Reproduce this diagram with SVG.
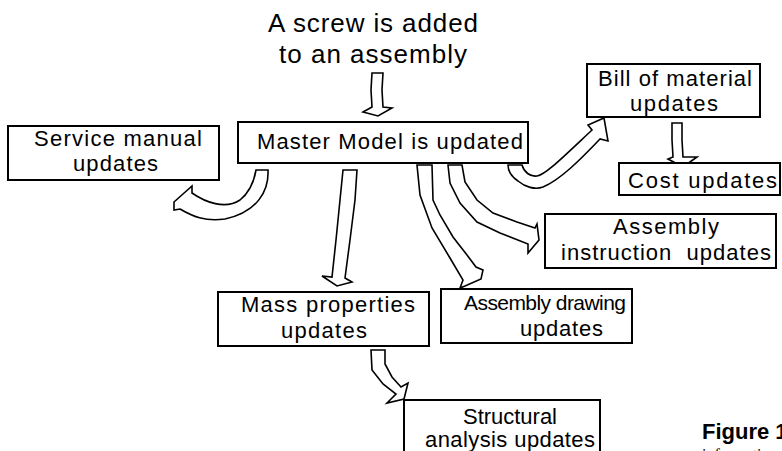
<svg xmlns="http://www.w3.org/2000/svg" width="782" height="451" viewBox="0 0 782 451">
<style>
.box{fill:#fff;stroke:#000;stroke-width:2}
.t{font-family:"Liberation Sans",Arial,sans-serif;font-size:22px;fill:#000}
.tt{font-family:"Liberation Sans",Arial,sans-serif;font-size:26px;fill:#000}
.arr{fill:#fff;stroke:#000;stroke-width:1.6;stroke-linejoin:miter}
</style>
<rect width="782" height="451" fill="#fff"/>
<g id="title">
<text class="tt" x="268" y="32" textLength="210">A screw is added</text>
<text class="tt" x="279" y="63" textLength="188">to an assembly</text>
</g>
<g id="connectors">
<path class="arr" d="M372,73 L383,73 L382,90 L383,107 L392,108 L378,116 L363,112 L372,107 L371,90 Z"/>
<path class="arr" d="M256,170 L268,170 C269,190 258,212 225,219 C205,222 192,216 180,209 L174,210 L174,202 L192,186 L192,193 C205,202 225,210 240,200 C250,192 254,182 256,170 Z"/>
<path class="arr" d="M343,170 L357,170 L355,200 L350,240 L345,278 L352,282 L337,286 L322,276 L332,277 L336,240 L340,200 Z"/>
<path class="arr" d="M417,165 L432,165 L433,200 L440,215 L453,237 L467,255 L476,267 L483,270 L481,279 L465,286 L460,288 L463,280 L450,258 L432,228 L420,195 Z"/>
<path class="arr" d="M448,165 L462,165 L465,182 L477,200 L493,213 L517,222 L535,228 L537,224 L539,240 L528,253 L528,244 L500,233 L477,222 L460,203 L450,183 Z"/>
<path class="arr" d="M508,165 L522,165 C524,172 530,177 537,176 C545,175 560,160 592,130 L588,125 L604,118 L608,141 L600,139 C580,160 560,180 543,187 C535,190 525,187 518,181 C512,177 508,172 508,165 Z"/>
<path class="arr" d="M672,123 L682,123 L682,140 L683,157 L697,157 L683,167 L668,159 L673,157 L672,140 Z"/>
<path class="arr" d="M371,350 L385,350 L385,364 L392,377 L401,387 L408,383 L404,399 L387,403 L396,394 L383,384 L372,370 Z"/>
</g>
<g id="master">
<rect class="box" x="238" y="122" width="290" height="41"/>
<text class="t" x="257" y="149" textLength="266">Master Model is updated</text>
</g>
<g id="service">
<rect class="box" x="8" y="126" width="211" height="54"/>
<text class="t" x="34" y="146" textLength="168">Service manual</text>
<text class="t" x="73" y="171" textLength="85">updates</text>
</g>
<g id="bom">
<rect class="box" x="587" y="64" width="173" height="53"/>
<text class="t" x="598" y="86" textLength="154">Bill of material</text>
<text class="t" x="630" y="111" textLength="88">updates</text>
</g>
<g id="cost">
<rect class="box" x="619" y="163" width="161" height="32"/>
<text class="t" x="628" y="188" textLength="149">Cost updates</text>
</g>
<g id="instruction">
<rect class="box" x="545" y="214" width="231" height="54"/>
<text class="t" x="613" y="234" textLength="106">Assembly</text>
<text class="t" x="561" y="260" textLength="210" xml:space="preserve">instruction  updates</text>
</g>
<g id="mass">
<rect class="box" x="218" y="292" width="211" height="54"/>
<text class="t" x="241" y="312" textLength="174">Mass properties</text>
<text class="t" x="281" y="338" textLength="86">updates</text>
</g>
<g id="drawing">
<rect class="box" x="441" y="289" width="191" height="54"/>
<text class="t" x="464" y="310" style="font-size:21px" textLength="162">Assembly drawing</text>
<text class="t" x="520" y="336" textLength="83">updates</text>
</g>
<g id="structural">
<rect class="box" x="404" y="400" width="196" height="70"/>
<text class="t" x="463" y="424" textLength="94">Structural</text>
<text class="t" x="425" y="447" textLength="170">analysis updates</text>
</g>
<g id="caption">
<text x="702" y="439" style="font-family:'Liberation Sans',Arial,sans-serif;font-size:22px;font-weight:bold">Figure 1</text>
<text x="702" y="460" style="font-family:'Liberation Serif','Times New Roman',serif;font-size:16px">information</text>
</g>
</svg>
